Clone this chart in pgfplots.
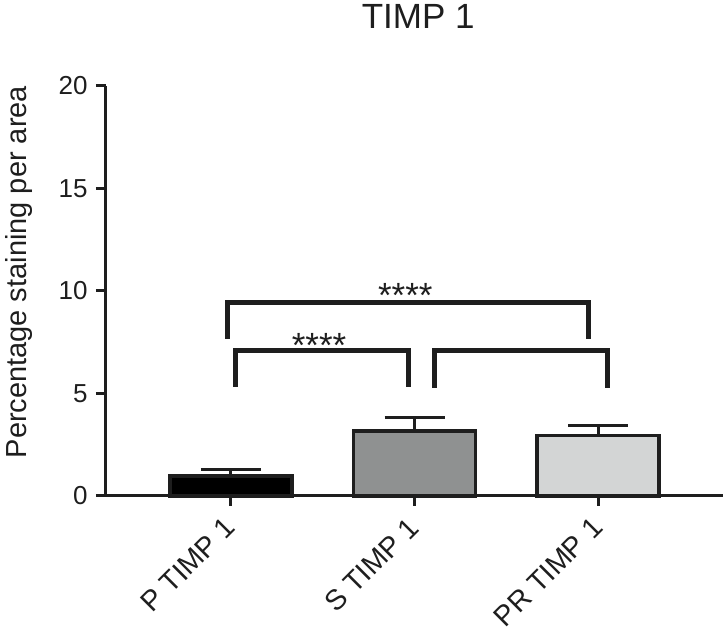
\documentclass[border=0pt]{standalone}
\usepackage{fontspec}
\setmainfont{Liberation Sans}
\usepackage{pgfplots}
\pgfplotsset{compat=1.18}
\definecolor{ink}{HTML}{1E1E1E}
\definecolor{sgray}{HTML}{8F9191}
\definecolor{lgray}{HTML}{D3D5D5}
\begin{document}
\begin{tikzpicture}
\useasboundingbox (-106pt,-140pt) rectangle (617pt,496pt);
\begin{axis}[
  at={(0pt,0pt)}, anchor=south west,
  scale only axis, width=617pt, height=410pt,
  xmin=-0.68, xmax=2.68, ymin=0, ymax=20,
  axis x line=bottom, axis y line=left,
  axis line style={-, line width=3pt, ink},
  ytick={0,5,10,15,20},
  xtick={0,1,2},
  xticklabels={P TIMP 1, S TIMP 1, PR TIMP 1},
  tick align=outside, major tick length=10pt,
  tick style={line width=3pt, ink},
  /pgf/number format/assume math mode=true,
  yticklabel style={font=\fontsize{26}{26}\selectfont, text=ink, xshift=-5pt},
  xticklabel style={yshift=-16pt, font=\fontsize{28.5}{28.5}\selectfont, text=ink, rotate=45, anchor=east, inner sep=1pt},
  ylabel={Percentage staining per area},
  ylabel style={font=\fontsize{29}{29}\selectfont, text=ink, at={(axis description cs:-0.164,0.546)}, anchor=north, inner sep=0pt},
  title={TIMP 1},
  title style={font=\fontsize{35}{35}\selectfont, text=ink, at={(axis description cs:0.506,1)}, anchor=base, yshift=51pt, inner sep=0pt},
  ybar, bar width=122pt, bar shift=0pt,
  clip=false,
]
\addplot[fill=black, draw=ink, line width=3.5pt,
  error bars/.cd, y dir=plus, y explicit, error mark=|,
  error bar style={line width=3pt, ink},
  error mark options={line width=3pt, ink, mark size=30pt}]
  coordinates {(0,0.98) +- (0,0.29)};
\addplot[fill=sgray, draw=ink, line width=3.5pt,
  error bars/.cd, y dir=plus, y explicit, error mark=|,
  error bar style={line width=3pt, ink},
  error mark options={line width=3pt, ink, mark size=30pt}]
  coordinates {(1,3.17) +- (0,0.65)};
\addplot[fill=lgray, draw=ink, line width=3.5pt,
  error bars/.cd, y dir=plus, y explicit, error mark=|,
  error bar style={line width=3pt, ink},
  error mark options={line width=3pt, ink, mark size=30pt}]
  coordinates {(2,2.94) +- (0,0.49)};

% significance brackets
\addplot[sharp plot, ink, line width=5pt, line join=miter, forget plot]
  coordinates {(-0.02,7.66) (-0.02,9.46) (1.95,9.46) (1.95,7.66)};
\addplot[sharp plot, ink, line width=5pt, line join=miter, forget plot]
  coordinates {(0.025,5.33) (0.025,7.12) (0.97,7.12) (0.97,5.33)};
\addplot[sharp plot, ink, line width=5pt, line join=miter, forget plot]
  coordinates {(1.11,5.27) (1.11,7.12) (2.05,7.12) (2.05,5.27)};
\node[font=\fontsize{35}{35}\selectfont, text=ink, anchor=base, inner sep=0pt] at (axis cs:0.95,9.2) {****};
\node[font=\fontsize{35}{35}\selectfont, text=ink, anchor=base, inner sep=0pt] at (axis cs:0.48,6.76) {****};
\end{axis}
\end{tikzpicture}
\end{document}
